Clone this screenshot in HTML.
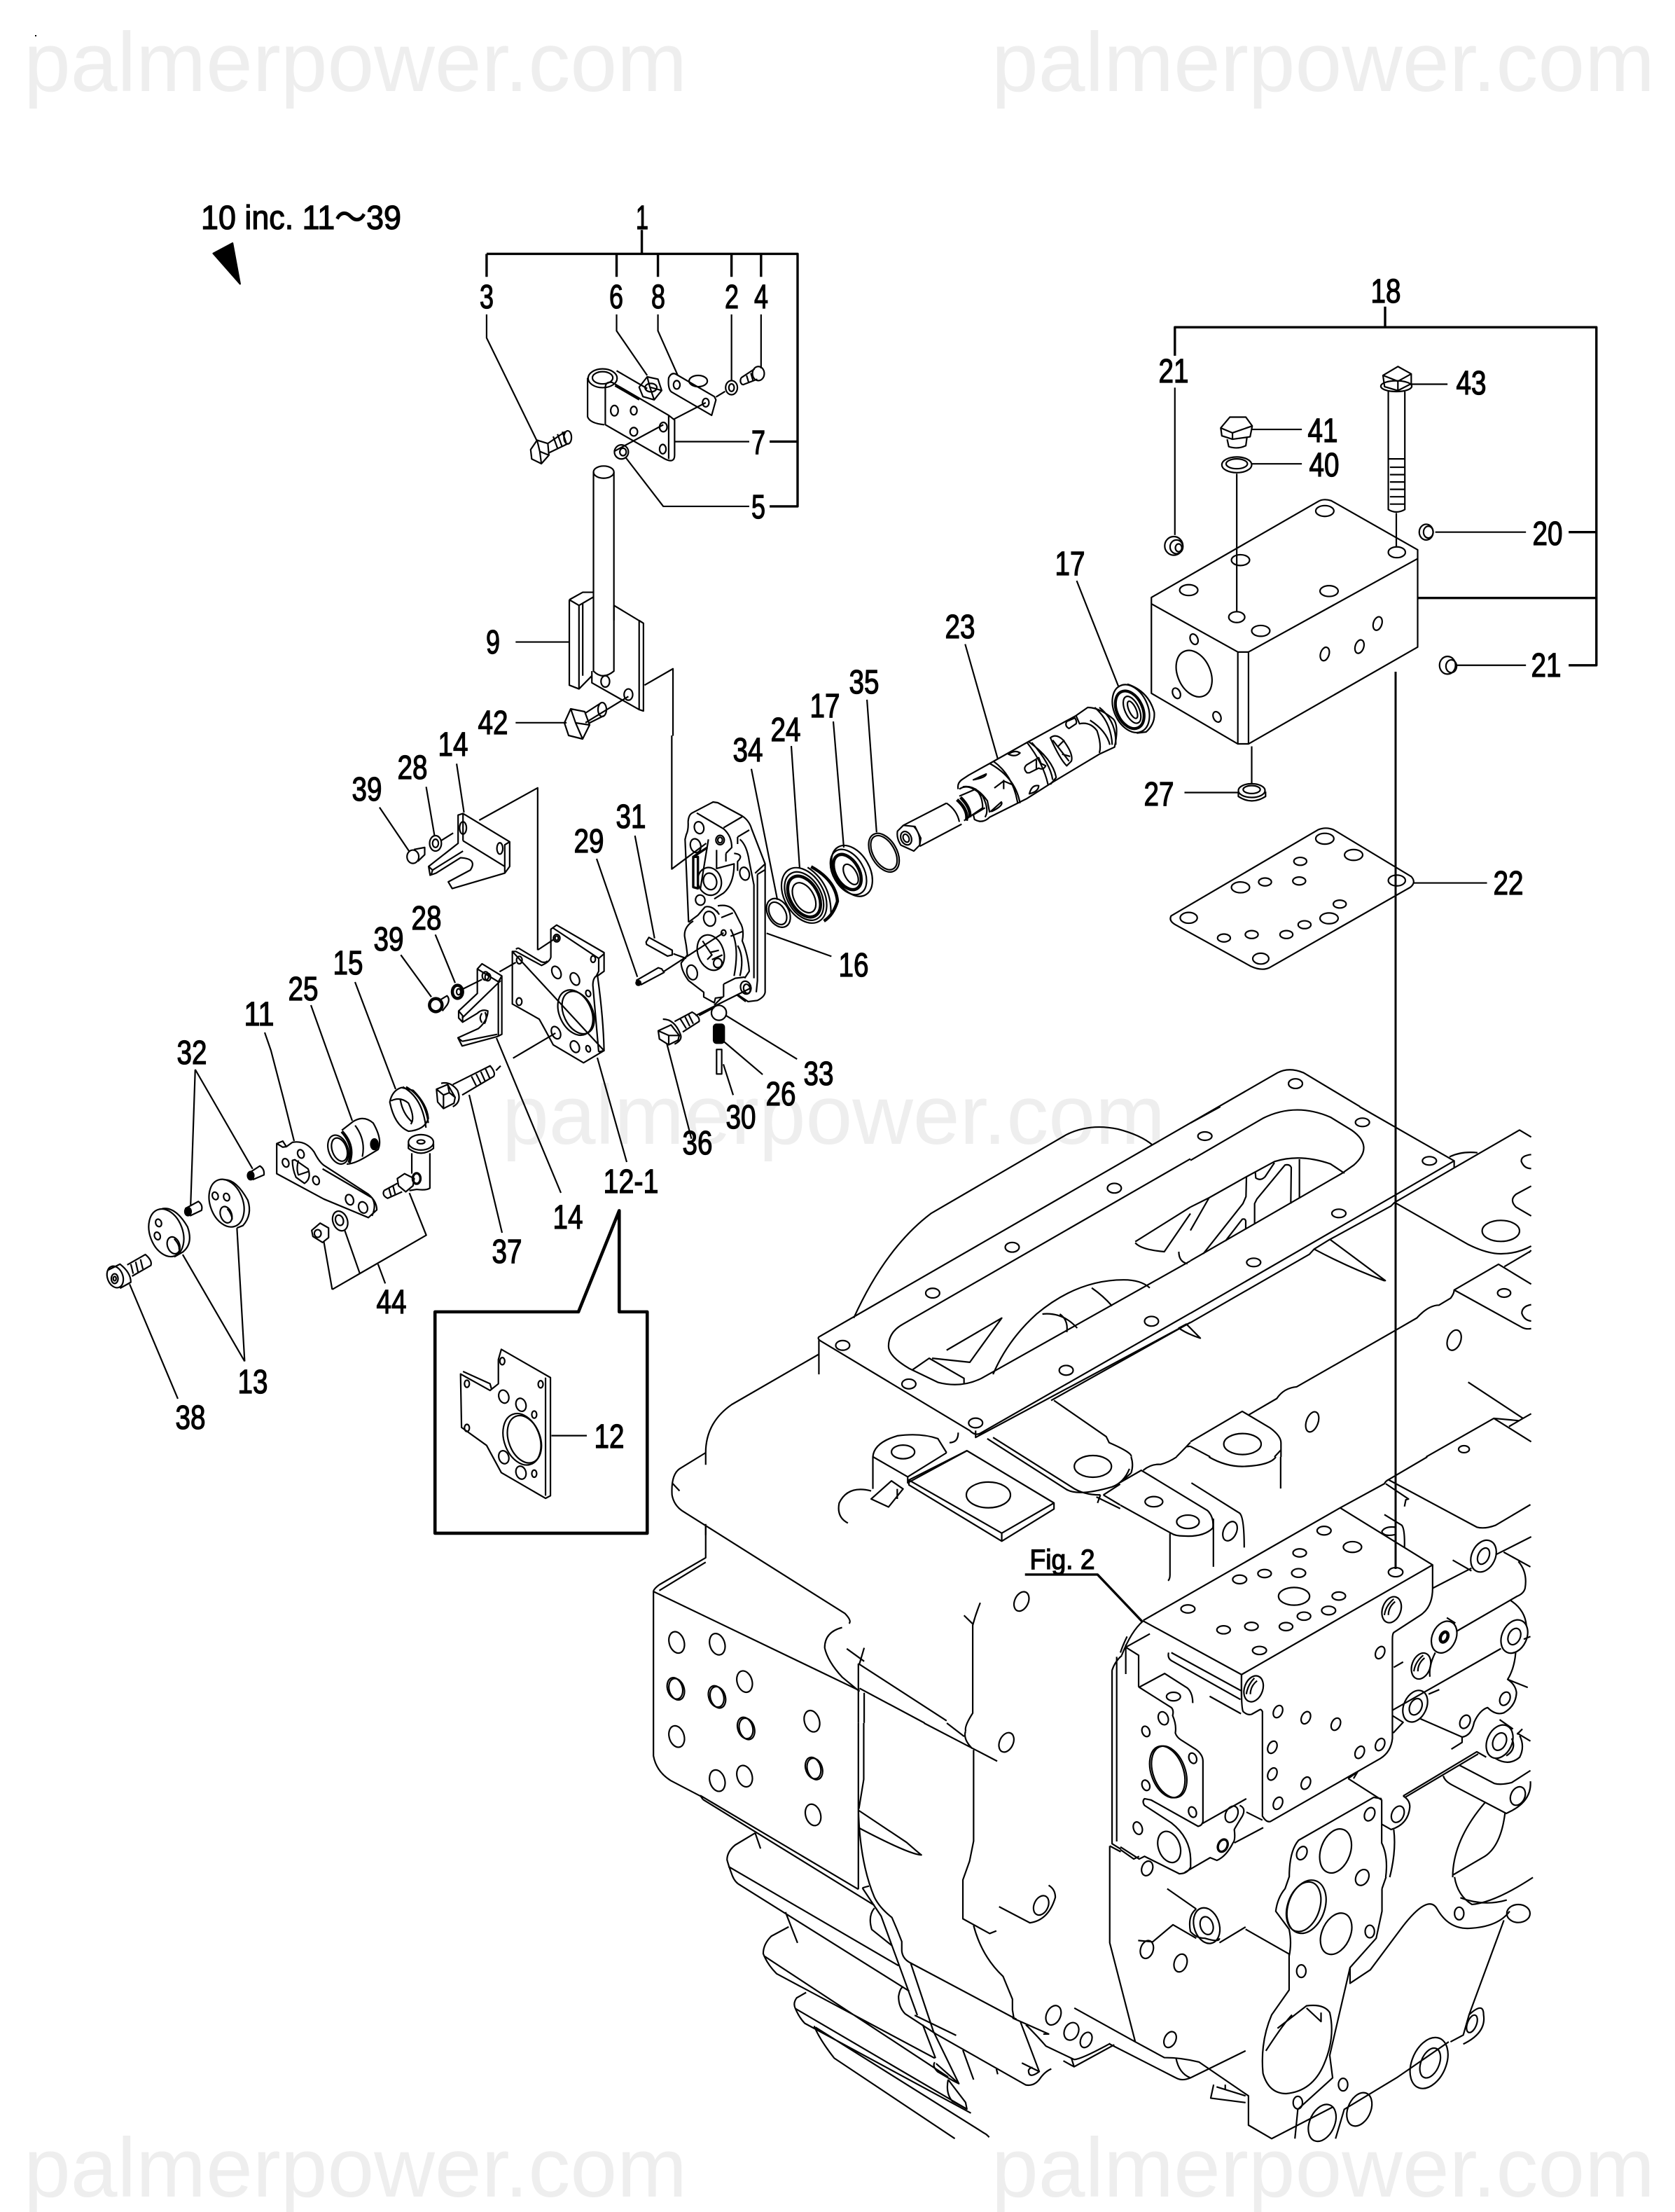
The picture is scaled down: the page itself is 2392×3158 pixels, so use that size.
<!DOCTYPE html>
<html><head><meta charset="utf-8"><title>Parts diagram</title>
<style>
html,body{margin:0;padding:0;background:#fff}
svg{display:block}
path,line,ellipse,polygon,polyline,circle{vector-effect:non-scaling-stroke}
.wm{font:120px "Liberation Sans",sans-serif;fill:#eeeeee}
.l text{font-family:"Liberation Sans","Noto Sans CJK JP",sans-serif;font-size:48px;fill:#000;stroke:#000;stroke-width:1.3;text-anchor:middle}
.d{fill:none;stroke:#000;stroke-width:2.2;stroke-linejoin:round}
.t{stroke-width:3.4}
.k{stroke-width:4.6}
.b{stroke-width:4.5}
</style></head><body>
<svg xmlns="http://www.w3.org/2000/svg" width="2392" height="3158" viewBox="0 0 2392 3158">
<rect width="2392" height="3158" fill="#fff"/>
<text class="wm" x="34" y="130">palmerpower.com</text>
<text class="wm" x="1416" y="130">palmerpower.com</text>
<text class="wm" x="717" y="1633">palmerpower.com</text>
<text class="wm" x="34" y="3136">palmerpower.com</text>
<text class="wm" x="1416" y="3136">palmerpower.com</text>
<rect x="50" y="50" width="2" height="2" fill="#000"/>

<!-- top assembly -->
<g class="d" transform="scale(.767,.67)">
<polygon points="433,518 397,540 447,605" fill="#000"/>
<path class="t" d="M906,541H1485V1079H1433M1195,490V541M906,541V590M1148,541V590M1225,541V590M1362,541V590M1417,541V590M1485,941H1433"/>
<path d="M906,670V720L1000,940M1148,670V705L1205,800M1225,670V705L1262,800M1362,670V810M1417,670V785M1255,941H1395M1395,1079H1235L1165,975"/>
<path d="M1143,962L1235,905M1255,893L1314,858M1333,846L1350,834"/>
<path d="M988,958L1000,938L1020,945L1022,970L1008,988L990,978ZM1000,938L1005,962L1008,988M1005,962L1022,970M1020,945L1052,920M1022,965L1058,945"/>
<ellipse cx="1057" cy="932" rx="7" ry="14"/><path d="M1030,930L1038,955M1038,925L1046,950M1047,920L1054,943"/>
<ellipse cx="1122" cy="806" rx="27" ry="20"/><ellipse cx="1122" cy="805" rx="19" ry="13"/>
<path d="M1094,805V888Q1098,902 1125,905M1127,825V905L1238,978Q1256,988 1256,970V895L1245,885L1140,815Q1128,812 1127,825ZM1148,790L1205,828M1145,822L1190,852M1245,885V978"/>
<ellipse cx="1144" cy="875" rx="7" ry="11"/><ellipse cx="1180" cy="875" rx="6" ry="9"/><ellipse cx="1180" cy="920" rx="7" ry="9"/><ellipse cx="1235" cy="910" rx="7" ry="10"/><ellipse cx="1234" cy="957" rx="6" ry="10"/>
<path d="M1190,825L1205,803L1225,808L1232,832L1218,852L1197,845ZM1205,803L1210,825L1218,852M1210,825L1232,832"/><ellipse cx="1212" cy="826" rx="11" ry="9"/>
<path d="M1245,805Q1250,793 1258,797L1330,845L1333,852L1325,885L1250,835Q1243,828 1245,805Z"/><ellipse cx="1260" cy="820" rx="6" ry="9"/><ellipse cx="1314" cy="858" rx="6" ry="9"/><ellipse cx="1300" cy="812" rx="17" ry="12"/>
<ellipse cx="1362" cy="826" rx="11" ry="15"/><ellipse cx="1362" cy="826" rx="5" ry="8"/>
<ellipse cx="1412" cy="796" rx="11" ry="15"/><path d="M1380,805L1405,786M1383,820L1410,808M1380,805Q1376,815 1383,820M1390,800L1394,815M1398,795L1402,811"/>
<ellipse cx="1157" cy="963" rx="13" ry="15"/><ellipse cx="1160" cy="963" rx="6" ry="8"/>
<ellipse cx="1124" cy="1006" rx="19" ry="13"/><path d="M1105,1006V1430Q1122,1450 1143,1430V1006"/>
<path d="M1143,1290L1198,1328V1515L1190,1512L1102,1455V1430M1190,1322L1198,1328M1190,1322V1512M1143,1290V1322M1060,1278L1085,1262H1105M1060,1278V1460L1078,1468L1102,1440M1060,1278L1078,1290V1468M1078,1290L1105,1272M1085,1285V1440"/>
<ellipse cx="1127" cy="1452" rx="8" ry="12"/><ellipse cx="1170" cy="1480" rx="8" ry="12"/>
<path d="M960,1368H1060M960,1540H1055M1200,1460L1253,1425V1568M1090,1540L1170,1484"/>
</g>

<!-- full coordinate extras -->
<g class="d">
<path d="M806,1032L815,1012L835,1016L842,1035L832,1055L812,1050ZM815,1012L822,1032L832,1055M822,1032L842,1035M836,1018L856,1005M842,1032L862,1022"/><ellipse cx="860" cy="1013" rx="6" ry="10"/>
<path d="M1130,1065L1142,1240M1190,1030L1205,1210M378,1474L387,1500L405,1569L420,1629M444,1435L503,1600M507,1402L565,1555M670,1563L717,1760M709,1482L801,1703M853,1510L895,1659"/>
<path class="t" d="M1993,959V2240" style="stroke-width:3"/>
</g>

<!-- block and gasket -->
<g class="d" transform="translate(1200,350) scale(.762,.7015)">
<path class="t" d="M627,225V167H1417V855H1365M1021,125V167M1417,584H1365M1082,718H1417"/>
<path d="M627,290V590M1070,283H1138M770,375H865M770,445H865M1115,584H1285M1155,855H1285M1075,1298H1212M645,1114H745M443,683L522,900M234,812L295,1045M50,925L68,1195M743,465V745M1042,545V615M771,1020V1095"/>
<path d="M1017,265L1045,247L1070,262L1070,282L1045,296L1020,288ZM1017,265L1045,277L1070,262M1045,277V296"/><ellipse cx="1042" cy="287" rx="29" ry="11"/>
<path d="M1027,298V538Q1042,548 1058,538V298M1027,435H1058M1030,452H1058M1030,467H1058M1030,482H1058M1030,497H1058M1030,512H1058M1030,527H1058"/>
<path d="M713,372L730,350L760,350L772,368L768,390L735,395L715,388ZM713,372L735,382L772,368M735,382V395M725,395L728,410Q745,416 760,408L762,392"/>
<ellipse cx="743" cy="447" rx="28" ry="16"/><ellipse cx="743" cy="445" rx="20" ry="10"/>
<ellipse cx="625" cy="612" rx="17" ry="19"/><ellipse cx="630" cy="614" rx="12" ry="14"/><ellipse cx="634" cy="616" rx="6" ry="8"/>
<ellipse cx="1098" cy="584" rx="13" ry="16"/><ellipse cx="1102" cy="584" rx="9" ry="12"/>
<ellipse cx="1138" cy="855" rx="15" ry="18"/><ellipse cx="1145" cy="857" rx="10" ry="13"/>
<path d="M583,717L895,522Q905,515 920,520L1082,620V638L765,828H745L583,730ZM583,717V912L745,1015H765L1082,818V620M745,828V1015M765,828V1015"/>
<ellipse cx="908" cy="541" rx="17" ry="11"/><ellipse cx="1043" cy="625" rx="16" ry="11"/><ellipse cx="750" cy="641" rx="17" ry="11"/><ellipse cx="653" cy="702" rx="17" ry="11"/><ellipse cx="916" cy="704" rx="17" ry="11"/><ellipse cx="743" cy="757" rx="15" ry="11"/><ellipse cx="788" cy="785" rx="17" ry="11"/>
<ellipse cx="908" cy="832" rx="8" ry="14" transform="rotate(15 908 832)"/><ellipse cx="973" cy="817" rx="8" ry="14" transform="rotate(15 973 817)"/><ellipse cx="1007" cy="770" rx="8" ry="14" transform="rotate(15 1007 770)"/>
<ellipse cx="663" cy="872" rx="31" ry="49" transform="rotate(-20 663 872)"/><ellipse cx="663" cy="802" rx="7" ry="11" transform="rotate(-20 663 802)"/><ellipse cx="630" cy="912" rx="7" ry="11" transform="rotate(-20 630 912)"/><ellipse cx="706" cy="960" rx="7" ry="11" transform="rotate(-20 706 960)"/>
<path d="M620,1365L895,1190Q910,1183 925,1190L1070,1285Q1080,1297 1068,1307L805,1470Q790,1478 770,1468L628,1383Q615,1375 620,1365Z"/>
<ellipse cx="908" cy="1208" rx="17" ry="11"/><ellipse cx="962" cy="1241" rx="17" ry="11"/><ellipse cx="862" cy="1254" rx="12" ry="8"/><ellipse cx="750" cy="1307" rx="17" ry="11"/><ellipse cx="796" cy="1296" rx="12" ry="8"/><ellipse cx="860" cy="1294" rx="12" ry="8"/><ellipse cx="1043" cy="1293" rx="16" ry="11"/><ellipse cx="936" cy="1341" rx="12" ry="8"/><ellipse cx="916" cy="1370" rx="17" ry="11"/><ellipse cx="870" cy="1383" rx="12" ry="8"/><ellipse cx="836" cy="1403" rx="12" ry="8"/><ellipse cx="771" cy="1403" rx="12" ry="8"/><ellipse cx="719" cy="1410" rx="12" ry="8"/><ellipse cx="653" cy="1369" rx="16" ry="11"/><ellipse cx="788" cy="1452" rx="15" ry="11"/>
<ellipse cx="771" cy="1110" rx="25" ry="14"/><ellipse cx="771" cy="1108" rx="16" ry="8"/><path d="M746,1112V1122Q771,1140 797,1122V1112"/>
</g>

<!-- spool 23 and seal 17 -->
<g class="d" transform="translate(1270,950) scale(.3333)">
<ellipse cx="1035" cy="185" rx="72" ry="108" transform="rotate(-25 1035 185)"/><ellipse cx="1030" cy="190" rx="58" ry="88" transform="rotate(-25 1030 190)"/><ellipse cx="1030" cy="190" rx="52" ry="82" transform="rotate(-25 1030 190)"/><ellipse cx="1040" cy="190" rx="30" ry="62" transform="rotate(-25 1040 190)"/><ellipse cx="1042" cy="190" rx="15" ry="40" transform="rotate(-25 1042 190)"/>
<path d="M1020,80Q1110,110 1135,200Q1140,250 1100,285L1060,290"/>
<path d="M35,710L60,685L110,690L135,740L130,770L105,795L50,770Q30,740 35,710ZM105,690Q135,720 130,770M60,685L245,590M130,775L310,680M245,590Q290,620 300,670"/>
<ellipse cx="72" cy="740" rx="22" ry="30" transform="rotate(-25 72 740)"/><ellipse cx="72" cy="740" rx="12" ry="18" transform="rotate(-25 72 740)"/>
<path class="b" d="M290,575Q340,620 330,665M305,565Q350,610 345,650"/>
<path d="M300,560L370,530Q400,560 400,610L320,665"/>
<path d="M295,530Q290,505 310,490L340,470L430,420L590,330L800,215L850,180Q900,180 960,230Q985,260 965,350L900,380L700,500L590,570L430,650Q400,680 365,660L360,640"/>
<path d="M430,420Q540,480 560,590M445,410Q530,470 550,590M595,325Q700,400 715,480L690,510M610,330Q690,420 700,490M590,330Q660,420 680,510"/>
<path d="M760,240L795,225Q805,240 800,250L770,270Q750,260 760,240ZM800,215L815,250Q860,240 890,280Q910,340 900,375M860,235Q930,280 945,340M880,180Q950,240 955,340M900,180Q975,240 970,340"/>
<path d="M690,310Q715,290 745,320Q790,380 780,410L760,430Q730,400 690,310ZM700,320L770,410M720,350L750,320M740,380L775,390"/>
<path d="M590,460Q570,440 590,425L640,395L650,420L670,430Q660,450 640,440L600,460ZM630,405V445"/>
<path d="M510,380Q540,360 560,375Q540,395 510,380ZM600,550Q610,510 640,515Q640,540 600,550ZM450,525L490,495L525,510M490,490V530M360,490L415,465Q415,480 360,490ZM435,625L480,585Q490,600 440,625Z"/>
<path d="M300,530Q340,500 400,560Q430,620 410,650M315,520Q370,510 420,580L430,630M360,640L410,610"/>
</g>

<!-- housing 16, seals, pins -->
<g class="d" transform="translate(900,1130) scale(.3333)">
<ellipse cx="1087" cy="262" rx="55" ry="90" transform="rotate(-30 1087 262)"/><ellipse cx="1087" cy="262" rx="46" ry="80" transform="rotate(-30 1087 262)"/>
<ellipse cx="950" cy="340" rx="75" ry="118" transform="rotate(-30 950 340)"/><ellipse cx="935" cy="345" rx="66" ry="105" transform="rotate(-30 935 345)"/><ellipse class="b" cx="930" cy="345" rx="50" ry="82" transform="rotate(-30 930 345)"/><ellipse cx="945" cy="355" rx="25" ry="48" transform="rotate(-30 945 355)"/>
<ellipse cx="745" cy="445" rx="84" ry="128" transform="rotate(-30 745 445)"/><ellipse cx="745" cy="448" rx="72" ry="112" transform="rotate(-30 745 448)"/><ellipse class="b" cx="745" cy="450" rx="60" ry="95" transform="rotate(-30 745 450)"/><ellipse cx="745" cy="455" rx="42" ry="70" transform="rotate(-30 745 455)"/>
<path class="b" d="M775,322Q880,380 888,470Q870,530 830,555"/><path d="M760,325Q860,390 860,520"/>
<ellipse cx="635" cy="520" rx="45" ry="66" transform="rotate(-30 635 520)"/><ellipse cx="632" cy="522" rx="33" ry="52" transform="rotate(-30 632 522)"/>
<path d="M248,130Q250,100 265,92L355,45L375,48L480,105Q510,125 520,160L578,310V860Q575,880 545,895L505,900L460,870M248,130Q250,165 240,185L235,205L250,560M285,92L400,160Q435,190 435,240L410,265M400,155L480,108M460,195L510,165M460,195V225M470,205Q500,230 510,300L530,400V800M535,350L578,310M545,355L578,335M545,355V810L540,860"/>
<ellipse cx="295" cy="155" rx="20" ry="26" transform="rotate(-15 295 155)"/><ellipse cx="385" cy="208" rx="18" ry="20"/><ellipse cx="385" cy="208" rx="10" ry="12"/><ellipse cx="280" cy="232" rx="22" ry="30" transform="rotate(-15 280 232)"/><ellipse cx="490" cy="352" rx="20" ry="28" transform="rotate(-15 490 352)"/><ellipse cx="300" cy="465" rx="20" ry="22" transform="rotate(-15 300 465)"/>
<path class="t" d="M270,280V410L290,415V280ZM270,280L330,240"/>
<ellipse cx="340" cy="385" rx="50" ry="60" transform="rotate(-15 340 385)"/><ellipse cx="342" cy="385" rx="28" ry="36" transform="rotate(-15 342 385)"/>
<path d="M370,250V330L445,310Q445,395 400,435L360,460M410,265V300M445,265Q490,270 460,300V340M300,420L335,205"/>
<path d="M250,560L290,530L320,495Q350,485 380,525L370,510M233,620Q230,580 270,555M233,620L240,660L245,700L218,735Q220,770 250,810L315,860V880L360,905L365,885L400,880M400,825V880M400,825L450,800L490,795M375,490Q430,480 450,520L470,560Q490,590 480,640Q505,700 510,770L490,800M390,540L440,520M430,620L480,600M430,590Q470,660 445,790M460,660Q490,710 470,790M455,870L495,900"/>
<ellipse cx="340" cy="545" rx="25" ry="32" transform="rotate(-15 340 545)"/><ellipse cx="265" cy="775" rx="22" ry="32" transform="rotate(-15 265 775)"/><ellipse cx="345" cy="690" rx="55" ry="78" transform="rotate(-20 345 690)"/>
<path d="M310,640L350,700L330,720M340,690L380,680M350,720L395,700"/><ellipse cx="375" cy="735" rx="18" ry="20"/><ellipse cx="400" cy="605" rx="10" ry="12"/><ellipse cx="495" cy="840" rx="22" ry="28" transform="rotate(-15 495 840)"/><ellipse cx="500" cy="845" rx="14" ry="20" transform="rotate(-15 500 845)"/>
<path d="M68,645L80,625L180,680V700L160,705L70,655ZM25,810L120,755L135,760L145,775L45,828M145,770L400,605M185,695L240,715M280,960L520,840M360,915L395,880"/>
<circle cx="35" cy="820" r="10" fill="#000"/>
<circle cx="380" cy="948" r="32"/>
<rect x="355" y="995" width="50" height="85" rx="14" fill="#000"/>
<path d="M370,1105H392V1210H370Z"/>
<path d="M120,1025L175,1000L210,1045L205,1065L165,1085L125,1060ZM120,1025L165,1045L165,1085M165,1045L210,1045M140,975Q190,975 215,1040Q225,1065 190,1082M190,985L265,945Q300,965 295,985L225,1030M215,975L240,1015M235,965L255,1005M250,955L270,995M295,960L360,925"/>
</g>

<!-- upper bracket 14 and labels leaders in Z3 -->
<g class="d" transform="translate(100,1050) scale(.7015,.7334)">
<path d="M787,55L802,150M725,100L742,195M630,140L690,225M1387,65L1440,320M1150,195L1190,395M1072,240L1155,470M1335,545L1480,630M1330,595L1410,660M1330,640L1350,700M1215,600L1265,785M1418,385L1550,430M833,165L952,102V418M1225,0V260L1295,210M980,1363H1052"/>
<path d="M790,155L800,152L895,207V255L885,268L778,298L770,285L815,262Q830,240 795,238L745,268L733,272L730,255L790,210ZM800,152V205M800,205L885,255V268M895,207L885,213V255M730,255L738,262L735,272M738,262L800,225"/>
<ellipse cx="800" cy="180" rx="7" ry="12"/><ellipse cx="875" cy="220" rx="6" ry="11"/>
<ellipse cx="744" cy="210" rx="12" ry="15"/><ellipse cx="744" cy="210" rx="6" ry="8"/><path d="M755,205L780,190"/>
<ellipse cx="698" cy="236" rx="12" ry="13"/><path d="M700,222L722,218V232L708,245"/>
<path class="k" d="M743,1122H1035L1118,925V1122H1175V1553H743Z"/>
<path d="M795,1243L855,1275L872,1262V1215L878,1195L978,1250V1480L968,1485L878,1435L848,1382L797,1347ZM968,1250V1480M858,1272L855,1262L800,1238"/>
<ellipse cx="880" cy="1218" rx="5" ry="7"/><ellipse cx="958" cy="1263" rx="5" ry="7"/><ellipse cx="808" cy="1262" rx="5" ry="7"/><ellipse cx="883" cy="1287" rx="10" ry="13" transform="rotate(-20 883 1287)"/><ellipse cx="918" cy="1303" rx="10" ry="13" transform="rotate(-20 918 1303)"/><ellipse cx="945" cy="1322" rx="5" ry="7"/><ellipse cx="920" cy="1370" rx="36" ry="52" transform="rotate(-22 920 1370)"/><ellipse cx="925" cy="1370" rx="32" ry="48" transform="rotate(-22 925 1370)"/><ellipse cx="808" cy="1348" rx="5" ry="7"/><ellipse cx="883" cy="1405" rx="10" ry="13" transform="rotate(-20 883 1405)"/><ellipse cx="918" cy="1435" rx="10" ry="13" transform="rotate(-20 918 1435)"/><ellipse cx="945" cy="1437" rx="5" ry="7"/>
</g>

<!-- plate 12-1, bracket, bolt 37, seal 15 -->
<g class="d" transform="translate(540,1280) scale(.3333)">
<path d="M575,235V460L690,525Q710,560 750,635L880,712L968,660L945,665M968,660Q965,520 940,340L968,320V240L765,122L740,140V260Q735,280 700,295L590,235L575,235ZM600,220L700,280Q720,285 725,275M750,135L945,265L968,245M945,265V320L935,340Q920,350 920,380L945,665M590,225L600,220"/>
<path d="M685,228L750,185M520,322L590,282M578,692L760,585"/>
<ellipse cx="765" cy="178" rx="14" ry="16"/><ellipse cx="765" cy="178" rx="7" ry="9"/><ellipse cx="921" cy="268" rx="10" ry="14"/><ellipse cx="605" cy="272" rx="12" ry="16"/><ellipse cx="604" cy="450" rx="12" ry="16"/><ellipse cx="764" cy="325" rx="18" ry="28" transform="rotate(-25 764 325)"/><ellipse cx="843" cy="353" rx="18" ry="28" transform="rotate(-25 843 353)"/><ellipse cx="900" cy="415" rx="10" ry="14" transform="rotate(-20 900 415)"/><ellipse cx="845" cy="497" rx="68" ry="102" transform="rotate(-25 845 497)"/><ellipse cx="857" cy="497" rx="62" ry="96" transform="rotate(-25 857 497)"/><ellipse cx="762" cy="583" rx="18" ry="28" transform="rotate(-25 762 583)"/><ellipse cx="843" cy="643" rx="18" ry="26" transform="rotate(-25 843 643)"/><ellipse cx="900" cy="652" rx="9" ry="14" transform="rotate(-20 900 652)"/>
<path d="M425,310L445,288L530,340V590L510,600L360,640L342,605L430,565Q470,530 470,490Q445,480 425,500L362,538L345,520V490L425,415ZM425,310L515,365V595M530,340L515,365M360,520L525,360M360,620L510,590M342,605L360,620M345,490L362,510V538"/>
<ellipse cx="460" cy="340" rx="14" ry="18"/><ellipse cx="470" cy="345" rx="12" ry="16"/>
<path d="M445,500Q430,520 445,540M458,495Q470,520 455,545"/>
<path d="M245,163L330,370M97,250L228,430M365,395L445,355"/>
<ellipse class="b" cx="340" cy="408" rx="22" ry="28"/><ellipse cx="345" cy="408" rx="9" ry="13"/>
<ellipse class="b" cx="247" cy="465" rx="27" ry="28"/><path d="M270,440L295,425Q310,440 295,465L275,490"/>
<path d="M250,825L298,805L330,860L325,885L280,908L255,880ZM298,805L305,840L280,850L250,825M305,840L330,860M280,850L280,908M270,800Q310,790 340,830Q360,880 320,900M320,805L480,725Q505,755 495,770L360,850M400,770L420,810M420,760L440,800M440,750L458,790M460,738L478,778M505,745L525,725"/>
<path d="M50,880Q60,830 100,818L150,830Q210,890 215,950Q200,1000 130,1005Q70,980 50,880ZM55,875Q95,855 130,885Q160,950 140,975M95,870Q105,930 145,965M105,815Q190,860 205,990M120,815Q200,860 215,970"/>
</g>

<!-- small parts 11,13,25,32,38,44 -->
<g class="d" transform="translate(130,1500) scale(.3444)">
<path d="M432,78L413,640M432,78L670,490M637,1288L605,735M637,1288L380,845M360,1443L160,968"/>
<path d="M650,510L700,478Q720,490 717,515L670,535"/><ellipse cx="662" cy="518" rx="13" ry="17" fill="#000"/>
<path d="M390,655L445,625Q465,640 458,662L410,685"/><ellipse cx="402" cy="667" rx="13" ry="17" fill="#000"/>
<ellipse cx="562" cy="632" rx="68" ry="102" transform="rotate(-20 562 632)"/><path d="M550,535Q600,530 650,620Q670,680 630,725L605,735"/>
<ellipse cx="515" cy="602" rx="12" ry="16" transform="rotate(-20 515 602)"/><ellipse cx="562" cy="607" rx="12" ry="16" transform="rotate(-20 562 607)"/><ellipse cx="560" cy="680" rx="23" ry="35" transform="rotate(-20 560 680)"/><path d="M565,655Q585,680 585,700"/>
<ellipse cx="312" cy="755" rx="68" ry="102" transform="rotate(-20 312 755)"/><path d="M295,655Q350,645 400,730Q425,800 380,835L345,855"/>
<ellipse cx="280" cy="714" rx="12" ry="16" transform="rotate(-20 280 714)"/><ellipse cx="275" cy="768" rx="12" ry="16" transform="rotate(-20 275 768)"/><ellipse cx="342" cy="807" rx="25" ry="36" transform="rotate(-20 342 807)"/><path d="M345,780Q368,805 365,825"/>
<ellipse cx="100" cy="938" rx="32" ry="46" transform="rotate(-20 100 938)"/><ellipse cx="98" cy="945" rx="14" ry="20"/><ellipse cx="98" cy="945" rx="6" ry="9"/>
<path d="M70,910L120,885Q165,920 165,960L120,985M150,888L225,845Q255,870 248,890L170,935M165,885L175,925M185,875L195,918M205,865L215,905"/>
<path d="M770,385L795,375L810,398L835,380Q890,370 925,420Q945,460 965,475L1150,595Q1185,625 1185,660L1150,692L965,615L770,510ZM770,385L795,400L810,398M960,490L1165,610Q1185,640 1165,685"/>
<ellipse cx="870" cy="428" rx="13" ry="18" transform="rotate(-20 870 428)"/><ellipse cx="807" cy="465" rx="13" ry="18" transform="rotate(-20 807 465)"/><ellipse cx="933" cy="538" rx="13" ry="18" transform="rotate(-20 933 538)"/><ellipse cx="1072" cy="618" rx="16" ry="22" transform="rotate(-20 1072 618)"/><ellipse cx="1128" cy="650" rx="18" ry="24" transform="rotate(-20 1128 650)"/>
<path d="M835,455L845,452L900,490Q915,530 885,550L850,525Q835,490 835,455ZM860,455Q850,490 860,515L905,500"/>
<ellipse cx="1025" cy="410" rx="40" ry="62" transform="rotate(-20 1025 410)"/><ellipse cx="1030" cy="410" rx="30" ry="50" transform="rotate(-20 1030 410)"/>
<path d="M1040,330L1085,295Q1130,265 1170,300Q1210,370 1190,410L1140,440Q1090,470 1060,470M1095,310Q1140,370 1125,440"/><path class="b" d="M1040,335Q1095,395 1070,465"/>
<ellipse cx="1175" cy="388" rx="15" ry="22" fill="#000"/>
<path d="M1000,990L1390,765L1320,590M1000,990L965,790M1115,925L1052,745M1190,885L1220,965"/>
<path d="M915,745L950,715L985,735L985,775L960,795L920,770Z"/><ellipse cx="940" cy="758" rx="14" ry="16"/>
<ellipse cx="1033" cy="706" rx="30" ry="42" transform="rotate(-20 1033 706)"/><ellipse cx="1030" cy="703" rx="16" ry="22" transform="rotate(-20 1030 703)"/>
<ellipse cx="1368" cy="380" rx="52" ry="32"/><ellipse cx="1368" cy="378" rx="16" ry="8"/><path d="M1316,385V405Q1368,445 1420,405V385M1330,425V510M1405,425V570Q1390,580 1350,575L1320,580"/>
<path d="M1270,530L1300,510L1340,530L1335,560L1305,585L1275,560ZM1215,580L1270,550M1290,585L1230,612Q1205,600 1215,580M1235,570L1245,605M1252,560L1262,598"/><ellipse class="t" cx="1350" cy="530" rx="16" ry="22"/>
</g>

<!-- transmission, upper left -->
<g class="d" transform="translate(900,1500) scale(.829,.574)">
<path d="M1257,139L1160,55Q1135,40 1115,55L325,712Q322,716 328,722L585,945Q595,960 605,950L965,653M595,945V962L965,676M325,720V805"/>
<path d="M965,269L470,680Q445,700 445,735Q445,760 480,790L530,825Q570,840 605,815L965,523"/>
<ellipse cx="1146" cy="82" rx="12" ry="12"/><ellipse cx="834" cy="342" rx="12" ry="12"/><ellipse cx="658" cy="489" rx="12" ry="12"/><ellipse cx="521" cy="603" rx="12" ry="12"/><ellipse cx="366" cy="733" rx="12" ry="12"/><ellipse cx="480" cy="829" rx="12" ry="12"/><ellipse cx="595" cy="926" rx="12" ry="12"/><ellipse cx="751" cy="795" rx="12" ry="12"/><ellipse cx="898" cy="673" rx="12" ry="12"/>
<path d="M385,665Q440,490 518,405L750,210Q790,180 840,195Q880,210 900,235"/>
<path d="M870,475L965,389M870,478Q880,495 920,500L965,405M945,500Q945,525 960,530"/>
<path d="M485,795L515,765L575,815V830M520,765L585,775L640,665L545,745M625,805Q650,720 700,655Q770,570 850,570Q880,570 895,590M795,590Q815,610 830,635M710,655Q745,650 770,690M740,655Q755,670 752,700"/>
<path d="M945,690L958,680L982,715Q960,705 945,690Z"/>
<path d="M325,755L175,880Q130,925 130,1000M130,1000V1030M130,1000L85,1040Q70,1055 72,1105Q75,1130 90,1145L370,1400Q382,1418 377,1425M72,1075L85,1095M130,1180V1205"/>
<path d="M730,870L820,960L825,975Q865,1000 863,1010M860,1040Q850,1075 830,1085Q770,1110 750,1090L615,965M625,962L760,1085Q780,1105 810,1105M810,1105L805,1125"/><ellipse cx="797" cy="1034" rx="32" ry="27"/>
<path d="M725,870L965,676"/>
<path d="M580,995L730,1125V1140L640,1220L480,1080V1068ZM480,1068L640,1200L730,1125M640,1200V1220"/><ellipse cx="617" cy="1105" rx="38" ry="32"/>
<path d="M545,1000L530,965Q500,950 460,958Q420,975 418,1010V1090M418,1010L478,1060L545,1000M478,1060V1075L580,995M565,950Q565,975 550,975"/><ellipse cx="470" cy="998" rx="20" ry="17"/>
<path d="M450,1070L470,1090L445,1135L415,1115ZM415,1095Q375,1080 360,1125Q355,1160 375,1175M460,1090V1115"/>
<path d="M815,1105L844,1078M803,1110L844,1139M815,1105L844,1130M941,1010L958,985L965,974M965,984L958,985"/>
<path class="t" d="M680,1303H805L882,1420"/>
</g>

<!-- transmission upper right -->
<g class="d" transform="translate(1700,1580) scale(.3333)">
<path d="M0,230L310,50Q450,-20 600,45L690,100Q790,170 700,250L650,285L0,660"/>
<path d="M0,70L128,0M725,0L1130,232V262M0,885L875,380L1130,232M0,925L510,632L530,610L595,570L860,425L875,410L1130,262M530,610Q680,690 830,745H835L600,570"/>
<path d="M0,430L80,390L240,300L360,235Q470,200 600,245L660,285M80,390L0,530M240,300L238,385L225,415L55,630M278,280L280,305Q300,320 320,300L360,240M430,415L432,260Q425,245 405,250L285,395L275,415V500M467,225V390M150,575L222,482Q235,478 237,490V525"/>
<ellipse cx="1024" cy="232" rx="30" ry="18"/><ellipse cx="737" cy="67" rx="30" ry="18"/><ellipse cx="62" cy="126" rx="30" ry="18"/><ellipse cx="636" cy="457" rx="30" ry="18"/><ellipse cx="271" cy="667" rx="30" ry="18"/><ellipse cx="1344" cy="798" rx="28" ry="18"/><ellipse cx="1172" cy="1467" rx="23" ry="15"/>
<path d="M250,1320L370,1250Q400,1205 455,1200L875,960L970,905Q1020,850 1065,850L1115,820Q1130,800 1130,785L1320,675L1460,760M1130,785L1420,945Q1440,955 1460,950M1345,685L1455,620M1450,625L1460,615"/>
<path d="M0,1435L222,1305L340,1375Q388,1410 388,1440V1500M388,1470L360,1500M0,1455L85,1500"/>
<ellipse cx="223" cy="1445" rx="80" ry="45"/><ellipse cx="522" cy="1350" rx="25" ry="45" transform="rotate(20 522 1350)"/><ellipse cx="1130" cy="1000" rx="28" ry="45" transform="rotate(20 1130 1000)"/><ellipse cx="1330" cy="532" rx="80" ry="45"/>
<path d="M875,410L1190,590Q1270,630 1330,630Q1400,630 1460,597M1130,262L1410,100L1460,130M1110,215Q1160,190 1230,197M1460,205Q1415,210 1418,235Q1430,265 1460,265M1460,340L1395,375Q1365,400 1395,430L1460,468M1460,848Q1420,855 1420,885Q1430,915 1460,918"/>
<path d="M1190,1180L1425,1335L1365,1370M1300,1335L1410,1345M1010,1500L1300,1335L1460,1435M1425,1335L1460,1315"/>
</g>

<!-- Fig 2 block region -->
<g class="d" transform="translate(1600,2080) scale(.3827)">
<path d="M330,0Q400,40 470,35Q560,30 580,0M598,0V118"/>
<path d="M0,95L78,50L325,200Q350,225 345,265Q310,300 235,295Q205,295 190,285L0,180M185,285V440Q185,455 178,462M347,230V410M265,97L445,210Q462,225 462,338M40,60Q50,30 40,0M40,60L0,95M85,50Q115,25 150,28Q180,20 210,0"/>
<ellipse cx="125" cy="167" rx="33" ry="19"/><ellipse cx="252" cy="242" rx="42" ry="25"/><ellipse cx="409" cy="277" rx="24" ry="38" transform="rotate(25 409 277)"/>
<path d="M85,610L820,190L1165,403L452,812L85,612M820,190L985,100Q990,90 1000,85L1145,0M1000,85L1330,262Q1360,270 1400,255L1530,178M990,100L1075,157L1065,160L1060,185M985,215L1050,255Q1062,270 1060,340"/>
<path d="M975,280Q985,258 1025,262M975,280Q985,298 1025,290"/>
<ellipse cx="1027" cy="430" rx="27" ry="17"/>
<path d="M1165,403V490Q1165,560 1120,590L1020,655Q1015,660 1015,680V1050Q1010,1100 970,1125L560,1360Q545,1365 530,1340V950Q525,940 520,943L490,960Q475,965 458,950Q450,935 452,812"/>
<ellipse cx="760" cy="275" rx="26" ry="16"/><ellipse cx="866" cy="336" rx="34" ry="20"/><ellipse cx="669" cy="358" rx="25" ry="15"/><ellipse cx="665" cy="433" rx="26" ry="16"/><ellipse cx="538" cy="435" rx="25" ry="15"/><ellipse cx="445" cy="457" rx="26" ry="16"/><ellipse cx="252" cy="567" rx="26" ry="15"/><ellipse cx="648" cy="520" rx="58" ry="33"/><ellipse cx="815" cy="519" rx="25" ry="15"/><ellipse cx="777" cy="573" rx="26" ry="16"/><ellipse cx="685" cy="594" rx="25" ry="15"/><ellipse cx="618" cy="633" rx="25" ry="15"/><ellipse cx="489" cy="632" rx="25" ry="15"/><ellipse cx="385" cy="645" rx="25" ry="15"/><ellipse cx="519" cy="722" rx="26" ry="15"/>
<ellipse cx="1012" cy="570" rx="34" ry="50" transform="rotate(20 1012 570)"/><ellipse cx="497" cy="865" rx="34" ry="50" transform="rotate(20 497 865)"/><ellipse cx="1122" cy="780" rx="34" ry="50" transform="rotate(20 1122 780)"/>
<path d="M985,590Q990,555 1020,530M1000,590Q1000,560 1025,540M470,885Q475,850 500,825M485,885Q485,855 510,835M1095,800Q1100,765 1130,740M1110,800Q1110,770 1135,750"/>
<ellipse cx="969" cy="730" rx="16" ry="24" transform="rotate(25 969 730)"/><ellipse cx="588" cy="950" rx="16" ry="24" transform="rotate(25 588 950)"/><ellipse cx="692" cy="973" rx="16" ry="24" transform="rotate(25 692 973)"/><ellipse cx="804" cy="997" rx="16" ry="24" transform="rotate(25 804 997)"/><ellipse cx="567" cy="1083" rx="16" ry="24" transform="rotate(25 567 1083)"/><ellipse cx="567" cy="1183" rx="16" ry="24" transform="rotate(25 567 1183)"/><ellipse cx="692" cy="1217" rx="16" ry="24" transform="rotate(25 692 1217)"/><ellipse cx="893" cy="1102" rx="16" ry="24" transform="rotate(25 893 1102)"/><ellipse cx="969" cy="1073" rx="16" ry="24" transform="rotate(25 969 1073)"/><ellipse cx="588" cy="1292" rx="16" ry="24" transform="rotate(25 588 1292)"/>
<path d="M85,612Q40,650 5,740M25,670Q10,700 0,730M20,710L110,660M20,710L68,740V858M20,700V810M68,858L190,935Q200,945 195,965Q210,1000 205,1030Q210,1045 225,1055L280,1090Q308,1110 308,1135V1360Q305,1375 290,1378L115,1280L90,1275Q80,1285 90,1300L190,1365Q260,1420 262,1500V1530Q250,1555 220,1555L90,1490L70,1500L0,1455M72,858L165,808L250,862Q270,880 270,918M333,893L450,958M180,730Q175,750 190,760L448,905M190,730L450,872M452,812V905M0,1465L50,1500L70,1490"/>
<ellipse cx="198" cy="894" rx="26" ry="16"/><ellipse cx="160" cy="975" rx="18" ry="25" transform="rotate(-20 160 975)"/><ellipse cx="95" cy="1024" rx="14" ry="20" transform="rotate(-20 95 1024)"/><ellipse cx="182" cy="1175" rx="60" ry="100" transform="rotate(-20 182 1175)"/><ellipse cx="175" cy="1175" rx="60" ry="100" transform="rotate(-20 175 1175)"/><ellipse cx="270" cy="1124" rx="14" ry="20" transform="rotate(-20 270 1124)"/><ellipse cx="95" cy="1225" rx="14" ry="20" transform="rotate(-20 95 1225)"/><ellipse cx="269" cy="1325" rx="14" ry="20" transform="rotate(-20 269 1325)"/><ellipse cx="65" cy="1385" rx="16" ry="24" transform="rotate(-20 65 1385)"/><ellipse cx="182" cy="1455" rx="40" ry="60" transform="rotate(-20 182 1455)"/><ellipse cx="100" cy="1535" rx="20" ry="28" transform="rotate(20 100 1535)"/>
<path d="M305,1368L470,1275M445,1300Q470,1310 455,1340Q430,1380 425,1390Q430,1430 420,1440Q395,1490 360,1505L335,1495L240,1550M470,1325L530,1355M425,1440L533,1383"/>
<ellipse cx="415" cy="1333" rx="22" ry="32" transform="rotate(25 415 1333)"/><ellipse class="t" cx="382" cy="1450" rx="17" ry="24" transform="rotate(25 382 1450)"/>
<path d="M1165,490L1310,415M1240,385L1310,425M1400,365L1533,298M1430,355L1530,410M1485,390Q1520,430 1510,490Q1505,510 1480,520L1255,650M1218,600L1250,620M1455,535Q1510,570 1515,630M1505,680L1530,670M1420,715L1015,945M1175,730Q1150,780 1155,820M1020,785L1055,765"/>
<ellipse cx="1355" cy="370" rx="44" ry="62" transform="rotate(25 1355 370)"/><ellipse cx="1355" cy="370" rx="20" ry="32" transform="rotate(25 1355 370)"/><ellipse cx="1208" cy="672" rx="44" ry="62" transform="rotate(25 1208 672)"/><ellipse class="b" cx="1208" cy="672" rx="13" ry="20" transform="rotate(25 1208 672)"/><ellipse cx="1470" cy="670" rx="46" ry="65" transform="rotate(25 1470 670)"/><ellipse cx="1470" cy="670" rx="22" ry="32" transform="rotate(25 1470 670)"/>
<path d="M1475,730Q1470,790 1445,830L1520,860M1445,830Q1475,850 1478,880Q1475,930 1430,955Q1400,965 1370,935Q1340,945 1320,990Q1310,1040 1275,1045L1115,975M1150,885L1190,868M1015,965L1055,990L1018,1030M1275,1045V1065L1235,1090"/>
<ellipse cx="1435" cy="902" rx="18" ry="26" transform="rotate(25 1435 902)"/><ellipse cx="1286" cy="988" rx="18" ry="26" transform="rotate(25 1286 988)"/><ellipse cx="1100" cy="930" rx="42" ry="62" transform="rotate(25 1100 930)"/><ellipse cx="1102" cy="932" rx="22" ry="32" transform="rotate(25 1102 932)"/>
<ellipse cx="1415" cy="1062" rx="46" ry="65" transform="rotate(25 1415 1062)"/><ellipse cx="1415" cy="1062" rx="24" ry="34" transform="rotate(25 1415 1062)"/>
<path d="M1415,980L1465,1015M1480,1030L1530,1060M1500,1015L1480,1035M1490,1040Q1510,1080 1490,1120Q1450,1155 1400,1125M1460,1050Q1480,1090 1440,1115"/>
<path d="M1055,1265L1330,1100L1365,1120M1062,1270L1335,1108M1055,1265Q1080,1280 1080,1305Q1075,1370 1010,1390L975,1370"/>
<ellipse cx="1035" cy="1333" rx="22" ry="32" transform="rotate(25 1035 1333)"/>
<path d="M1265,1150L1395,1218Q1420,1225 1460,1215L1530,1170M1205,1190Q1210,1210 1240,1225L1440,1330L1460,1320Q1535,1280 1530,1210M1360,1290Q1240,1430 1240,1568M1435,1330Q1420,1450 1360,1490L1240,1560"/>
<ellipse cx="1483" cy="1265" rx="26" ry="36" transform="rotate(25 1483 1265)"/>
<path d="M850,1200L975,1280V1440Q1000,1490 990,1568M1020,1390Q1030,1470 1005,1568M850,1200L885,1175L870,1200M975,1275L945,1270L665,1430Q630,1470 630,1568"/>
<ellipse cx="803" cy="1470" rx="55" ry="85" transform="rotate(20 803 1470)"/><ellipse cx="930" cy="1333" rx="18" ry="26" transform="rotate(25 930 1333)"/><ellipse cx="677" cy="1478" rx="18" ry="26" transform="rotate(25 677 1478)"/>
</g>

<!-- lower ribs -->
<g class="d" transform="translate(1000,2460) scale(.3827)">
<path d="M0,270L590,620M10,285L650,680M0,270L10,285M205,410L130,455Q100,480 100,510Q105,530 120,570Q130,595 150,605L780,1000M105,535L740,905M785,895L1180,1105M205,410L225,468M318,705L363,820M330,760L265,795Q235,825 235,860Q250,900 285,935L875,1250M240,870L925,1320"/>
<path d="M800,1090L955,1165M765,1085L880,1160L1215,1350Q1245,1355 1265,1330Q1285,1300 1310,1290M765,1085Q740,1060 740,1020Q745,990 755,985M395,1005L360,1025Q345,1045 355,1065Q370,1100 390,1120L1010,1455M355,1065L995,1440M425,1130Q445,1180 500,1250L950,1550M430,1135L1060,1530Q1070,1535 1078,1545"/>
<path d="M590,0V620M610,0V210L592,320M590,320Q595,520 650,650Q670,690 715,725Q735,770 752,815V850Q755,880 785,895L870,1150L965,1345M605,615Q620,610 630,608M605,615L675,720L730,870L810,1090M830,1125L878,1250M875,1265Q865,1280 885,1300L945,1335L965,1345L880,1270M650,690Q625,720 640,770L715,830M925,1330Q915,1380 940,1410L995,1440L990,1415L925,1330"/>
<path d="M590,325L770,445Q810,480 825,492Q780,490 590,390"/>
<path d="M835,0L1108,142M920,0L985,50M990,30Q980,60 1015,95M1020,100V440L1005,515L980,585V730L1080,785L1105,775M1115,685L1230,745Q1300,735 1325,650Q1325,620 1300,605M1020,755Q1050,870 1130,945L1165,1030V1070L1170,1100M1195,1115L1265,1300M1200,1268L1265,1300Q1225,1330 1225,1295Q1230,1285 1240,1285M1165,1100L1300,1160H1280M1215,1125Q1260,1170 1290,1205L1395,1255Q1420,1255 1530,1195M1355,1260L1395,1282L1385,1250M1395,1282L1545,1200M980,1220L1020,1330M1105,1290L1110,1310"/>
<ellipse cx="1272" cy="680" rx="26" ry="38" transform="rotate(25 1272 680)"/><ellipse cx="1318" cy="1090" rx="26" ry="38" transform="rotate(25 1318 1090)"/><ellipse cx="1385" cy="1150" rx="26" ry="34" transform="rotate(25 1385 1150)"/><ellipse cx="1440" cy="1182" rx="20" ry="30" transform="rotate(25 1440 1182)"/>
</g>

<!-- lower body, left and bottom-right -->
<g class="d" transform="translate(900,2150) scale(.829,.6429)">
<path d="M130,40V115L50,175Q40,185 40,190V555Q45,590 70,610L122,645M50,188L130,125M40,190L395,410M365,270Q335,280 335,315Q340,345 365,380L395,412"/>
<path d="M393,350V482M403,415V482M393,350L545,477M395,405L507,482M373,317L403,345M403,315L395,350"/>
<ellipse cx="80" cy="303" rx="13" ry="24" transform="rotate(-10 80 303)"/><ellipse cx="150" cy="307" rx="13" ry="24" transform="rotate(-10 150 307)"/><ellipse cx="80" cy="407" rx="13" ry="24" transform="rotate(-10 80 407)"/><ellipse cx="77" cy="405" rx="13" ry="24" transform="rotate(-10 77 405)"/><ellipse cx="148" cy="423" rx="13" ry="24" transform="rotate(-10 148 423)"/><ellipse cx="151" cy="425" rx="13" ry="24" transform="rotate(-10 151 425)"/><ellipse cx="197" cy="390" rx="13" ry="24" transform="rotate(-10 197 390)"/><ellipse cx="198" cy="493" rx="13" ry="24" transform="rotate(-10 198 493)"/><ellipse cx="201" cy="495" rx="13" ry="24" transform="rotate(-10 201 495)"/><ellipse cx="80" cy="512" rx="13" ry="24" transform="rotate(-10 80 512)"/><ellipse cx="313" cy="478" rx="13" ry="24" transform="rotate(-10 313 478)"/><ellipse cx="315" cy="582" rx="13" ry="24" transform="rotate(-10 315 582)"/><ellipse cx="318" cy="584" rx="13" ry="24" transform="rotate(-10 318 584)"/><ellipse cx="150" cy="610" rx="13" ry="24" transform="rotate(-10 150 610)"/><ellipse cx="197" cy="600" rx="13" ry="24" transform="rotate(-10 197 600)"/><ellipse cx="315" cy="686" rx="13" ry="24" transform="rotate(-10 315 686)"/>
<path d="M603,215Q595,240 590,265V460Q575,490 578,500M575,243L590,262"/>
<ellipse cx="674" cy="212" rx="12" ry="22" transform="rotate(15 674 212)"/><ellipse cx="648" cy="525" rx="12" ry="22" transform="rotate(15 648 525)"/>
<path d="M830,365Q835,345 847,332M830,365V750L845,762M838,335V745M826,755V970L870,1190L920,1225Q950,1225 980,1235L1065,1310V1375L1105,1405L1210,1335M826,755L845,768M826,1195L940,1270Q950,1278 965,1270L1060,1210M940,1225Q945,1260 965,1270M1005,1285L1000,1315L1060,1325M1010,1290L1060,1310M1025,1285V1295M765,1115L870,1190"/>
<ellipse cx="930" cy="1185" rx="10" ry="18" transform="rotate(15 930 1185)"/>
<path d="M1060,940L1135,995V1075L1105,1130Q1085,1190 1090,1260Q1100,1305 1130,1305Q1175,1300 1195,1240Q1215,1180 1205,1125Q1195,1105 1165,1110L1115,1160M1165,1115L1190,1145V1125M1135,1000Q1140,970 1135,940L1112,900Q1115,870 1128,850L1135,824M1295,850V900L1285,960L1240,1025V1060L1275,1030L1330,935Q1375,860 1390,895Q1410,940 1445,938Q1495,935 1515,900M1302,824L1295,850M1240,1025L1205,1220L1210,1270L1150,1340L1145,1405M1095,1210Q1125,1150 1140,1130"/>
<ellipse cx="1165" cy="890" rx="32" ry="60" transform="rotate(12 1165 890)"/><ellipse cx="1160" cy="890" rx="28" ry="56" transform="rotate(12 1160 890)"/><ellipse cx="1216" cy="950" rx="25" ry="47" transform="rotate(15 1216 950)"/><ellipse cx="1261" cy="825" rx="11" ry="18" transform="rotate(15 1261 825)"/><ellipse cx="1274" cy="945" rx="8" ry="14"/><ellipse cx="1156" cy="1033" rx="8" ry="14"/><ellipse cx="1150" cy="1325" rx="8" ry="14"/>
<path d="M925,850L975,895M875,965L900,968L935,930L975,960M1015,970L1060,935M975,895Q960,910 965,945Q975,960 990,960Q1015,970 1015,960"/><ellipse cx="993" cy="932" rx="22" ry="40" transform="rotate(-10 993 932)"/><ellipse cx="993" cy="932" rx="11" ry="20" transform="rotate(-10 993 932)"/><ellipse cx="890" cy="985" rx="11" ry="20" transform="rotate(10 890 985)"/><ellipse cx="948" cy="1015" rx="11" ry="20" transform="rotate(10 948 1015)"/>
<path d="M1445,1130L1505,920M1413,1190L1435,1175L1445,1130M1410,1190L1320,1270L1230,1340L1215,1405M1445,1130Q1470,1100 1470,1130Q1475,1170 1435,1195"/><ellipse cx="1376" cy="1237" rx="30" ry="58" transform="rotate(15 1376 1237)"/><ellipse cx="1378" cy="1237" rx="16" ry="34" transform="rotate(15 1378 1237)"/><ellipse cx="1450" cy="1150" rx="8" ry="20" transform="rotate(15 1450 1150)"/><ellipse cx="1256" cy="1340" rx="20" ry="38" transform="rotate(15 1256 1340)"/><ellipse cx="1192" cy="1370" rx="22" ry="42" transform="rotate(15 1192 1370)"/><ellipse cx="1228" cy="1285" rx="8" ry="14"/>
<path d="M1420,824Q1425,865 1450,885Q1490,880 1555,825M1430,870Q1470,890 1510,875"/><ellipse cx="1428" cy="905" rx="8" ry="14"/><ellipse cx="1530" cy="905" rx="20" ry="20"/>
</g>

<!-- Labels -->
<g class="l">
<text x="430" y="327" textLength="286" lengthAdjust="spacingAndGlyphs">10  inc. 11〜39</text>
<text x="917" y="327" textLength="18" lengthAdjust="spacingAndGlyphs">1</text>
<text x="695" y="440" textLength="20" lengthAdjust="spacingAndGlyphs">3</text>
<text x="880" y="440" textLength="20" lengthAdjust="spacingAndGlyphs">6</text>
<text x="940" y="440" textLength="20" lengthAdjust="spacingAndGlyphs">8</text>
<text x="1045" y="440" textLength="20" lengthAdjust="spacingAndGlyphs">2</text>
<text x="1087" y="440" textLength="20" lengthAdjust="spacingAndGlyphs">4</text>
<text x="1083" y="648" textLength="20" lengthAdjust="spacingAndGlyphs">7</text>
<text x="1083" y="740" textLength="20" lengthAdjust="spacingAndGlyphs">5</text>
<text x="704" y="933" textLength="20" lengthAdjust="spacingAndGlyphs">9</text>
<text x="704" y="1048" textLength="43" lengthAdjust="spacingAndGlyphs">42</text>
<text x="1979" y="432" textLength="43" lengthAdjust="spacingAndGlyphs">18</text>
<text x="1676" y="546" textLength="43" lengthAdjust="spacingAndGlyphs">21</text>
<text x="2101" y="563" textLength="43" lengthAdjust="spacingAndGlyphs">43</text>
<text x="1889" y="631" textLength="43" lengthAdjust="spacingAndGlyphs">41</text>
<text x="1891" y="680" textLength="43" lengthAdjust="spacingAndGlyphs">40</text>
<text x="2210" y="778" textLength="43" lengthAdjust="spacingAndGlyphs">20</text>
<text x="2208" y="966" textLength="43" lengthAdjust="spacingAndGlyphs">21</text>
<text x="1528" y="821" textLength="43" lengthAdjust="spacingAndGlyphs">17</text>
<text x="1371" y="911" textLength="43" lengthAdjust="spacingAndGlyphs">23</text>
<text x="1234" y="990" textLength="43" lengthAdjust="spacingAndGlyphs">35</text>
<text x="1655" y="1150" textLength="43" lengthAdjust="spacingAndGlyphs">27</text>
<text x="2154" y="1277" textLength="43" lengthAdjust="spacingAndGlyphs">22</text>
<text x="1219" y="1394" textLength="43" lengthAdjust="spacingAndGlyphs">16</text>
<text x="1122" y="1058" textLength="43" lengthAdjust="spacingAndGlyphs">24</text>
<text x="1178" y="1024" textLength="43" lengthAdjust="spacingAndGlyphs">17</text>
<text x="1068" y="1087" textLength="43" lengthAdjust="spacingAndGlyphs">34</text>
<text x="647" y="1079" textLength="43" lengthAdjust="spacingAndGlyphs">14</text>
<text x="589" y="1112" textLength="43" lengthAdjust="spacingAndGlyphs">28</text>
<text x="524" y="1143" textLength="43" lengthAdjust="spacingAndGlyphs">39</text>
<text x="901" y="1182" textLength="43" lengthAdjust="spacingAndGlyphs">31</text>
<text x="841" y="1217" textLength="43" lengthAdjust="spacingAndGlyphs">29</text>
<text x="609" y="1327" textLength="43" lengthAdjust="spacingAndGlyphs">28</text>
<text x="555" y="1357" textLength="43" lengthAdjust="spacingAndGlyphs">39</text>
<text x="497" y="1391" textLength="43" lengthAdjust="spacingAndGlyphs">15</text>
<text x="433" y="1428" textLength="43" lengthAdjust="spacingAndGlyphs">25</text>
<text x="370" y="1464" textLength="43" lengthAdjust="spacingAndGlyphs">11</text>
<text x="274" y="1519" textLength="43" lengthAdjust="spacingAndGlyphs">32</text>
<text x="1169" y="1549" textLength="43" lengthAdjust="spacingAndGlyphs">33</text>
<text x="1115" y="1578" textLength="43" lengthAdjust="spacingAndGlyphs">26</text>
<text x="1058" y="1611" textLength="43" lengthAdjust="spacingAndGlyphs">30</text>
<text x="996" y="1648" textLength="43" lengthAdjust="spacingAndGlyphs">36</text>
<text x="901" y="1703" textLength="79" lengthAdjust="spacingAndGlyphs">12-1</text>
<text x="811" y="1754" textLength="43" lengthAdjust="spacingAndGlyphs">14</text>
<text x="724" y="1803" textLength="43" lengthAdjust="spacingAndGlyphs">37</text>
<text x="559" y="1875" textLength="43" lengthAdjust="spacingAndGlyphs">44</text>
<text x="361" y="1989" textLength="43" lengthAdjust="spacingAndGlyphs">13</text>
<text x="272" y="2040" textLength="43" lengthAdjust="spacingAndGlyphs">38</text>
<text x="870" y="2067" textLength="43" lengthAdjust="spacingAndGlyphs">12</text>
<text x="1517" y="2240" textLength="93" lengthAdjust="spacingAndGlyphs" style="font-size:40px">Fig. 2</text>
</g>
</svg>
</body></html>
